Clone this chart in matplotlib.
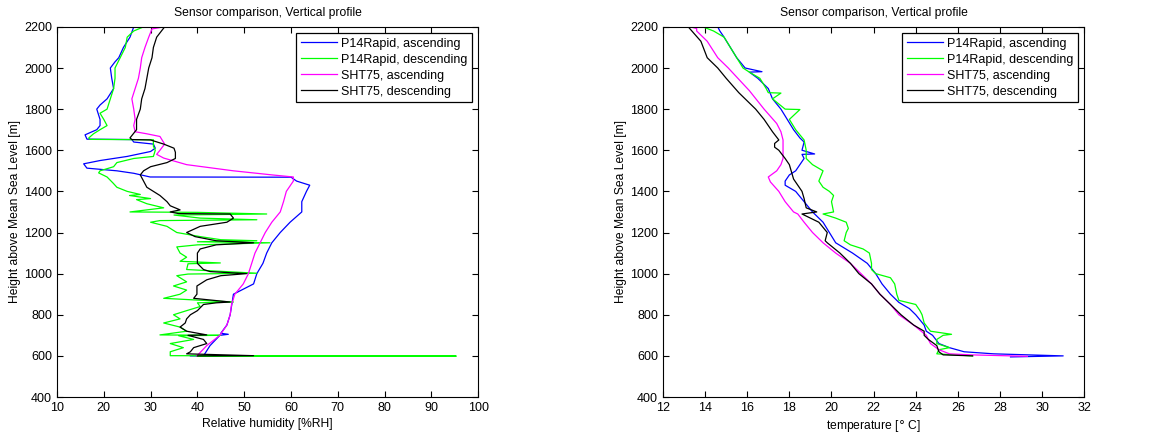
import matplotlib
matplotlib.use("Agg")
import matplotlib.pyplot as plt

plt.rcParams['font.family'] = ['Liberation Sans', 'DejaVu Sans']

# ---- relative humidity profiles (height [m], RH [%]) ----
rh_p14_asc_h = [600, 598, 600, 650, 700, 705, 710, 750, 800, 900, 950, 1000, 1050, 1100, 1150, 1200,
                1250, 1300, 1350, 1400, 1430, 1450, 1469, 1470, 1488, 1500, 1513, 1534, 1550, 1570,
                1594, 1610, 1630, 1640, 1652, 1654, 1675, 1700, 1720, 1750, 1800, 1820, 1850, 1900,
                1950, 2000, 2030, 2050, 2100, 2150, 2200]
rh_p14_asc_v = [38.5, 48, 41.3, 42.7, 44.8, 46.6, 45, 46.3, 47, 47.7, 52, 52.7, 54, 54.8, 55.9, 57.7,
                59.8, 62.3, 62.3, 63.3, 64, 61.2, 60, 29.9, 26.4, 22.8, 16.4, 15.7, 19.2, 25,
                30, 31, 30.6, 26.4, 26, 16.4, 16, 18.5, 19.2, 19.2, 18.5, 19.2, 20.7, 22.1,
                21.7, 21.4, 22.4, 23.2, 24.2, 25.6, 26.4]

rh_p14_desc_h = [2200, 2180, 2150, 2100, 2050, 2000, 1950, 1900, 1850, 1800, 1780, 1750, 1720, 1700,
                 1680, 1660, 1653, 1651, 1620, 1600, 1570, 1560, 1540, 1520, 1500, 1490, 1470, 1440,
                 1420, 1400, 1385, 1380, 1365, 1360, 1340, 1320, 1300, 1298, 1290, 1285, 1270, 1262,
                 1258, 1250, 1230, 1200, 1180, 1165, 1160, 1155, 1150, 1140, 1130, 1100, 1080, 1060,
                 1052, 1048, 1020, 1002, 998, 990, 960, 940, 920, 900, 880, 862, 858, 840, 820, 800,
                 780, 760, 740, 720, 702, 700, 698, 680, 660, 640, 620, 601, 599, 598]
rh_p14_desc_v = [28.5, 26.4, 25, 24.6, 23.5, 22.4, 22.4, 22.1, 21.4, 20.7, 19.2, 20, 20.7, 19.2,
                 17.8, 16.8, 17, 30.6, 30.6, 31, 30.6, 26.4, 22.8, 22.1, 19.2, 18.9, 20.7, 22,
                 22.8, 25, 27.8, 25.5, 30, 27, 29.2, 32.8, 25.6, 40, 54.8, 35, 40.6, 52.7,
                 32, 30, 33.5, 35.6, 40.6, 45, 52.7, 40, 55.5, 40, 35.6, 36.3, 37.7, 36.3,
                 44.9, 38, 37.7, 52.7, 38, 35.6, 37.7, 34.9, 37.7, 36.3, 32.8, 47.7, 40, 40.6, 37.7, 34.9,
                 36.3, 32.8, 36.3, 37.7, 32, 44.9, 36, 39.2, 34.2, 37, 34.2, 34.2, 95.3, 40]

rh_sht_asc_h = [600, 650, 700, 750, 800, 850, 900, 950, 1000, 1050, 1100, 1150, 1200, 1250, 1300,
                1350, 1400, 1450, 1470, 1480, 1500, 1530, 1562, 1580, 1600, 1630, 1667, 1680, 1690,
                1720, 1750, 1800, 1850, 1900, 1950, 2000, 2050, 2100, 2150, 2190, 2200]
rh_sht_asc_v = [39.9, 42, 44.8, 46.3, 47, 47.3, 48, 49.8, 50.9, 51.6, 52.3, 53.4, 54.5, 55.9, 57.7,
                58.4, 59, 60.5, 60.5, 56, 47.7, 37.7, 32.8, 31.3, 32, 33, 32, 29.2, 26.7,
                26.4, 26.7, 26.4, 26, 26.7, 27.4, 27.8, 28.1, 28.8, 29.6, 30.3, 32.8]

rh_sht_desc_h = [2200, 2150, 2100, 2050, 2000, 1950, 1900, 1850, 1800, 1750, 1700, 1660, 1652, 1650,
                 1630, 1610, 1590, 1560, 1540, 1520, 1500, 1480, 1450, 1420, 1400, 1380, 1350, 1330,
                 1310, 1300, 1292, 1290, 1270, 1250, 1230, 1200, 1180, 1160, 1150, 1140, 1120, 1100,
                 1050, 1020, 1010, 1000, 990, 970, 940, 900, 880, 862, 858, 850, 820, 800, 780, 760,
                 740, 720, 702, 700, 680, 660, 640, 620, 610, 601, 600]
rh_sht_desc_v = [33, 31.3, 30.6, 30.3, 29.6, 29.2, 28.8, 28.1, 27.8, 27, 27, 25.6, 26, 30,
                 32.8, 35, 35.3, 35.3, 33.5, 30, 28.5, 27.8, 28.5, 29.2, 30.6, 32, 33.5, 34.2,
                 36.3, 34.2, 36, 47, 47.7, 46.3, 40.6, 37.7, 39.5, 44, 52, 44, 40.6, 40,
                 40, 41.3, 42.7, 50.5, 45, 42, 39.9, 39.9, 39.2, 47, 44, 41.3, 40, 38.5, 37.7, 37.4,
                 36.3, 37.7, 42, 38, 41.3, 42, 39.2, 38.5, 37.7, 52, 40]

# ---- temperature profiles (height [m], T [deg C]) ----
t_p14_asc_h = [595, 600, 610, 620, 640, 660, 700, 720, 750, 800, 830, 860, 900, 950, 1000, 1050,
               1100, 1150, 1200, 1250, 1300, 1350, 1400, 1430, 1450, 1480, 1500, 1530, 1560, 1580,
               1582, 1600, 1640, 1660, 1700, 1750, 1800, 1850, 1900, 1950, 1980, 1982, 2000, 2050,
               2100, 2150, 2180, 2200]
t_p14_asc_v = [28.5, 31, 27.7, 26.3, 25.6, 25.1, 24.8, 24.5, 24.4, 24, 23.7, 23.2, 22.8, 22.4, 22.1, 21.7,
               21, 20.2, 19.9, 19.6, 19.1, 18.7, 18.3, 17.8, 17.8, 18, 18.3, 18.5, 18.7, 18.6,
               19.2, 18.6, 18.7, 18.5, 18.2, 17.9, 17.6, 17.2, 17.0, 16.5, 16.1, 16.7, 15.9, 15.5,
               15.2, 14.9, 14.7, 14.6]

t_p14_desc_h = [2200, 2180, 2150, 2100, 2050, 2000, 1980, 1950, 1900, 1880, 1878, 1850, 1800, 1798,
                1750, 1700, 1650, 1600, 1560, 1530, 1500, 1450, 1420, 1400, 1380, 1350, 1300, 1290,
                1270, 1250, 1220, 1200, 1160, 1140, 1120, 1100, 1050, 1020, 1000, 980, 950, 900, 870,
                850, 820, 800, 760, 720, 705, 700, 680, 660, 640, 630, 610, 600]
t_p14_desc_v = [13.9, 14.4, 14.9, 15.2, 15.5, 15.8, 16.1, 16.6, 16.9, 17.0, 17.6, 17.2, 17.8, 18.5,
                18.0, 18.3, 18.7, 18.8, 18.8, 19.1, 19.6, 19.4, 19.6, 19.9, 20.1, 20, 20.1, 19.6,
                20.2, 20.7, 20.8, 20.7, 20.6, 20.9, 21.5, 21.8, 21.9, 21.9, 22.1, 22.8, 23, 23.1, 23.2,
                24, 24.2, 24.3, 24.4, 24.7, 25.7, 25.3, 25, 25, 25.6, 25.1, 25, 26.7]

t_sht_asc_h = [598, 605, 610, 630, 660, 700, 750, 800, 850, 900, 950, 1000, 1050, 1100, 1150, 1200,
               1250, 1290, 1300, 1350, 1400, 1446, 1470, 1500, 1530, 1560, 1600, 1650, 1690, 1730,
               1800, 1890, 2000, 2050, 2130, 2180, 2192, 2200]
t_sht_asc_v = [29.3, 26.6, 25.6, 25.1, 24.7, 24.5, 23.9, 23.2, 22.8, 22.3, 21.9, 21.4, 20.9, 20.2, 19.6, 19.1,
               18.7, 18.4, 18.2, 17.8, 17.5, 17.1, 17.0, 17.4, 17.6, 17.7, 17.7, 17.7, 17.6, 17.4,
               16.8, 16.1, 15.1, 14.6, 14.1, 13.6, 13.6, 13.3]

t_sht_desc_h = [2200, 2130, 2050, 2000, 1950, 1880, 1800, 1750, 1690, 1650, 1633, 1615, 1600, 1560,
                1530, 1495, 1460, 1430, 1400, 1365, 1320, 1300, 1290, 1270, 1250, 1200, 1160,
                1150, 1100, 1050, 1000, 950, 900, 850, 800, 750, 720, 700, 680, 650, 620, 605, 600]
t_sht_desc_v = [13.2, 13.8, 14.1, 14.6, 15.0, 15.6, 16.4, 16.8, 17.2, 17.5, 17.3, 17.3, 17.5, 17.8,
                18.0, 18.1, 18.2, 18.4, 18.6, 18.7, 18.8, 19.3, 18.6, 19, 19.4, 19.8, 19.7,
                19.8, 20.4, 20.9, 21.3, 21.9, 22.3, 22.8, 23.3, 23.9, 24.4, 24.4, 24.6, 25, 25.1, 25.3, 26.7]

labels = ['P14Rapid, ascending', 'P14Rapid, descending', 'SHT75, ascending', 'SHT75, descending']
colors = ['#0000ff', '#00ff00', '#ff00ff', '#000000']

fig = plt.figure(figsize=(11.51, 4.37), dpi=100)
ax1 = fig.add_axes([0.0495, 0.0915, 0.366, 0.847])
ax2 = fig.add_axes([0.576, 0.0915, 0.366, 0.847])

for ax, series in [(ax1, [(rh_p14_asc_v, rh_p14_asc_h), (rh_p14_desc_v, rh_p14_desc_h),
                          (rh_sht_asc_v, rh_sht_asc_h), (rh_sht_desc_v, rh_sht_desc_h)]),
                   (ax2, [(t_p14_asc_v, t_p14_asc_h), (t_p14_desc_v, t_p14_desc_h),
                          (t_sht_asc_v, t_sht_asc_h), (t_sht_desc_v, t_sht_desc_h)])]:
    for (x, y), c, lab in zip(series, colors, labels):
        ax.plot(x, y, color=c, lw=0.9, label=lab)
    ax.set_ylim(400, 2200)
    ax.set_yticks(range(400, 2201, 200))
    ax.tick_params(direction='in', top=True, right=True, length=4, labelsize=9)
    ax.set_title('Sensor comparison, Vertical profile', fontsize=8.7, pad=7.5)
    ax.set_ylabel('Height above Mean Sea Level [m]', fontsize=8.7, labelpad=2)
    leg = ax.legend(loc='upper right', fontsize=9, fancybox=False, framealpha=1,
                    edgecolor='black', handlelength=2.9, handletextpad=0.35,
                    borderaxespad=0.5, labelspacing=0.32, borderpad=0.35)
    leg.get_frame().set_linewidth(0.9)

ax1.set_xlim(10, 100)
ax1.set_xticks(range(10, 101, 10))
ax1.set_xlabel('Relative humidity [%RH]', fontsize=8.7, labelpad=3)

ax2.set_xlim(12, 32)
ax2.set_xticks(range(12, 33, 2))
ax2.set_xlabel('temperature [$\\degree$ C]', fontsize=8.7, labelpad=3)

fig.savefig('out.png', dpi=100)
